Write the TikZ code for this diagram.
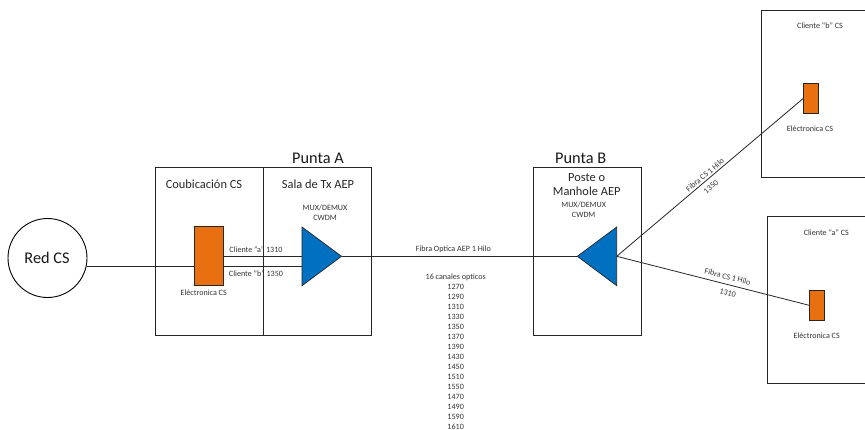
\documentclass[tikz,border=0pt]{standalone}
\usepackage{fontspec}
\setmainfont{Carlito}
\tikzset{
  px/.style={x=1pt,y=-1pt},
  boxa/.style={draw=black!85,line width=0.9pt,fill=white,inner sep=0pt,outer sep=0pt},
  orange box/.style={draw=black!85,line width=0.9pt,fill=orangecs,inner sep=0pt,outer sep=0pt},
  tri/.style={draw=black!85,line width=0.7pt,fill=bluecs},
  conn/.style={draw=black!85,line width=0.8pt},
  small/.style={font=\fontsize{8.1}{10}\selectfont,text=black!80,inner sep=0pt},
  mid/.style={font=\fontsize{12.4}{14.7}\selectfont,text=black!85,inner sep=0pt,align=center},
  large/.style={font=\fontsize{16.3}{18}\selectfont,text=black!90,inner sep=0pt},
}
\definecolor{orangecs}{HTML}{E97011}
\definecolor{bluecs}{HTML}{0070C0}
\begin{document}
\begin{tikzpicture}[px]
\useasboundingbox (0,0) rectangle (865,429);
% boxes
\node[boxa,minimum width=108pt,minimum height=167.5pt] (cou) at (209,251.3) {};
\node[boxa,minimum width=108pt,minimum height=167.5pt] (sala) at (317,251.3) {};
\node[boxa,minimum width=108pt,minimum height=167.5pt] (poste) at (587,251.3) {};
\node[boxa,minimum width=130pt,minimum height=167pt,anchor=west] (clib) at (761.3,93.5) {};
\node[boxa,minimum width=130pt,minimum height=167pt,anchor=west] (clia) at (767.3,300.3) {};
\node[draw=black,line width=0.9pt,circle,fill=white,minimum size=79pt,inner sep=0pt,outer sep=0pt] (red) at (47.5,258) {};
\node[large] at (47,258) {Red CS};
% devices
\node[orange box,minimum width=29pt,minimum height=59pt] (elec) at (209,256.2) {};
\node[orange box,minimum width=15pt,minimum height=30pt] (eleb) at (810.5,98.6) {};
\node[orange box,minimum width=15pt,minimum height=30pt] (elea) at (816.7,305.3) {};
% triangles
\coordinate (ta1) at (302,227); \coordinate (ta2) at (302,285.7); \coordinate (taP) at (341.5,256.3);
\coordinate (tb1) at (616.7,227); \coordinate (tb2) at (616.7,285.7); \coordinate (tbP) at (577.3,256.3);
\coordinate (taU) at (302,256.3); \coordinate (taL) at (302,266);
\coordinate (tbB) at (616.7,256.3);
% connectors
\draw[conn] (red.east |- 0,266) -- (elec.west |- 0,266);
\draw[conn] (elec.east |- taU) -- (taU);
\draw[conn] (elec.east |- taL) -- (taL);
\draw[conn] (taP) -- (tbP);
\draw[conn] (tbB) -- (eleb.west);
\draw[conn] (tbB) -- (elea.west);
\draw[tri] (ta1) -- (taP) -- (ta2) -- cycle;
\draw[tri] (tb1) -- (tbP) -- (tb2) -- cycle;
% labels
\node[large] at (318,158) {Punta A};
\node[large] at (580.7,158) {Punta B};
\node[mid] at (204,184) {Coubicación CS};
\node[mid] at (318,184) {Sala de Tx AEP};
\node[mid] at (586.7,184.6) {Poste o\\Manhole AEP};
\node[small,align=center] at (325,213) {MUX/DEMUX\\CWDM};
\node[small,align=center] at (583.7,210) {MUX/DEMUX\\CWDM};
\node[small] at (256,249.5) {Cliente "a" 1310};
\node[small] at (256,273.3) {Cliente "b" 1350};
\node[small] at (203.7,292.3) {Eléctronica CS};
\node[small] at (810,128.5) {Eléctronica CS};
\node[small] at (816.7,335.3) {Eléctronica CS};
\node[small] at (820,26) {Cliente “b” CS};
\node[small] at (826.3,233) {Cliente “a” CS};
\node[small] at (453.3,249.5) {Fibra Optica AEP 1 Hilo};
\node[small,align=center] at (455.7,351.7) {16 canales opticos\\1270\\1290\\1310\\1330\\1350\\1370\\1390\\1430\\1450\\1510\\1550\\1470\\1490\\1590\\1610};
\node[small,rotate=40.3] at (705,175) {Fibra CS 1 Hilo};
\node[small,rotate=40.3] at (711,187) {1350};
\node[small,rotate=-14.3] at (727.7,276.7) {Fibra CS 1 Hilo};
\node[small,rotate=-14.3] at (727.7,292.7) {1310};
\end{tikzpicture}
\end{document}
